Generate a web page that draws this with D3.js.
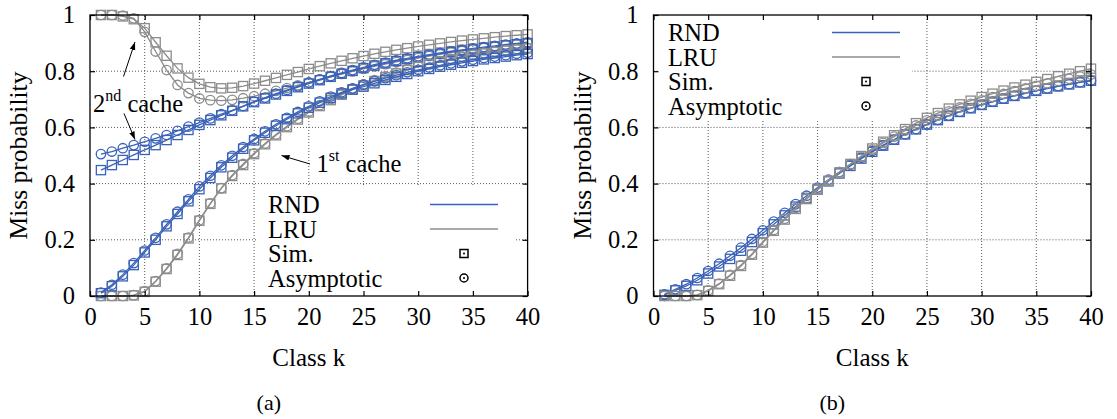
<!DOCTYPE html>
<html><head><meta charset="utf-8">
<script src="https://cdn.jsdelivr.net/npm/d3@7"></script>
<style>
body{margin:0;background:#fff}
svg{display:block}
</style>
</head><body>
<svg id="c" width="1117" height="419"></svg>
<script>
// ---------------- data ----------------
const classK = d3.range(1, 41);
const xTicks = [0, 5, 10, 15, 20, 25, 30, 35, 40];
const yTicks = [0, 0.2, 0.4, 0.6, 0.8, 1];
const yTickLabels = ["0", "0.2", "0.4", "0.6", "0.8", "1"];
const legendLabels = ["RND", "LRU", "Sim.", "Asymptotic"];
const xLabel = "Class k";
const yLabel = "Miss probability";

// panel (a): 1st and 2nd cache
const aRnd1Sim = [0.010,0.035,0.070,0.110,0.155,0.200,0.248,0.292,0.337,0.380,0.420,0.458,0.492,0.524,0.554,0.581,0.606,0.629,0.650,0.670,0.688,0.705,0.721,0.735,0.745,0.757,0.769,0.780,0.790,0.800,0.808,0.816,0.823,0.830,0.836,0.842,0.847,0.852,0.857,0.861];
const aRnd1Asy = [0.012,0.040,0.076,0.117,0.162,0.207,0.255,0.300,0.344,0.390,0.428,0.465,0.499,0.530,0.559,0.586,0.611,0.634,0.655,0.675,0.693,0.710,0.725,0.739,0.752,0.764,0.775,0.786,0.796,0.805,0.813,0.821,0.828,0.835,0.841,0.847,0.852,0.857,0.862,0.866];
const aLru1Sim = [0.000,0.000,0.000,0.002,0.015,0.051,0.096,0.146,0.205,0.268,0.328,0.383,0.427,0.466,0.505,0.540,0.572,0.601,0.628,0.653,0.676,0.697,0.716,0.734,0.750,0.765,0.779,0.792,0.804,0.815,0.825,0.834,0.842,0.850,0.857,0.863,0.868,0.873,0.877,0.881];
const aLru1Asy = [0.000,0.000,0.000,0.003,0.017,0.053,0.098,0.150,0.208,0.270,0.330,0.384,0.430,0.470,0.508,0.543,0.575,0.604,0.631,0.656,0.679,0.700,0.719,0.737,0.753,0.768,0.782,0.795,0.806,0.817,0.827,0.836,0.844,0.852,0.859,0.865,0.870,0.875,0.879,0.883];
const aRnd2Sim = [0.448,0.466,0.484,0.502,0.520,0.537,0.555,0.573,0.591,0.609,0.626,0.643,0.659,0.675,0.690,0.703,0.717,0.730,0.743,0.756,0.768,0.780,0.791,0.801,0.811,0.820,0.828,0.836,0.843,0.850,0.856,0.862,0.868,0.873,0.878,0.883,0.887,0.892,0.896,0.900];
const aRnd2Asy = [0.505,0.514,0.526,0.537,0.549,0.561,0.573,0.588,0.603,0.617,0.632,0.647,0.661,0.676,0.692,0.706,0.720,0.733,0.746,0.759,0.771,0.783,0.794,0.804,0.814,0.823,0.831,0.839,0.846,0.853,0.859,0.865,0.871,0.876,0.881,0.886,0.890,0.895,0.899,0.903];
const aLru2Sim = [1.000,1.000,0.995,0.985,0.953,0.903,0.855,0.810,0.777,0.755,0.743,0.739,0.741,0.747,0.756,0.766,0.776,0.787,0.797,0.808,0.818,0.828,0.837,0.846,0.854,0.862,0.869,0.876,0.882,0.888,0.894,0.899,0.904,0.909,0.913,0.917,0.921,0.925,0.928,0.931];
const aLru2Asy = [1.000,1.000,0.998,0.988,0.940,0.870,0.804,0.751,0.722,0.703,0.697,0.695,0.698,0.704,0.711,0.720,0.730,0.740,0.750,0.760,0.770,0.780,0.790,0.799,0.808,0.817,0.825,0.833,0.840,0.847,0.854,0.860,0.866,0.872,0.877,0.882,0.887,0.891,0.895,0.899];

// panel (b): single cache
const bRndSim = [0.004,0.020,0.036,0.056,0.080,0.105,0.132,0.161,0.192,0.223,0.255,0.287,0.318,0.349,0.379,0.408,0.436,0.463,0.489,0.513,0.535,0.556,0.575,0.593,0.610,0.626,0.641,0.655,0.668,0.680,0.691,0.702,0.712,0.721,0.730,0.738,0.746,0.753,0.760,0.766];
const bRndAsy = [0.006,0.024,0.042,0.064,0.089,0.115,0.143,0.172,0.203,0.234,0.265,0.296,0.327,0.357,0.386,0.414,0.441,0.467,0.492,0.516,0.537,0.557,0.576,0.594,0.611,0.627,0.642,0.656,0.669,0.681,0.692,0.703,0.713,0.722,0.731,0.739,0.747,0.754,0.761,0.767];
const bLruSim = [0.000,0.000,0.000,0.003,0.018,0.042,0.072,0.107,0.147,0.190,0.232,0.272,0.310,0.345,0.378,0.410,0.440,0.470,0.498,0.525,0.549,0.572,0.594,0.615,0.634,0.651,0.667,0.682,0.695,0.708,0.720,0.731,0.742,0.752,0.762,0.772,0.782,0.791,0.800,0.809];
const bLruAsy = [0.000,0.000,0.000,0.004,0.020,0.044,0.075,0.110,0.150,0.193,0.235,0.275,0.313,0.348,0.381,0.412,0.441,0.469,0.496,0.521,0.545,0.567,0.588,0.607,0.625,0.642,0.657,0.671,0.684,0.696,0.708,0.719,0.729,0.739,0.748,0.757,0.765,0.773,0.781,0.788];

// ---------------- style ----------------
const BLUE = "#3a62b8", GRAY = "#8c8c8c";
const FS = 24.5;
const FONT = "'Liberation Serif', 'Times New Roman', serif";

const svg = d3.select("#c").style("font-family", FONT);
const defs = svg.append("defs");
defs.append("marker").attr("id", "arr").attr("viewBox", "0 0 10 10")
  .attr("refX", 10).attr("refY", 5).attr("markerWidth", 8).attr("markerHeight", 8)
  .attr("markerUnits", "userSpaceOnUse").attr("orient", "auto")
  .append("path").attr("d", "M0,1.5 L10,5 L0,8.5 Z").attr("fill", "#000");

const panels = [
  { left: 90, right: 527.6, top: 15, bottom: 296, tag: "(a)",
    series: [
      {v: aLru2Sim, c: GRAY, m: "sq"}, {v: aLru2Asy, c: GRAY, m: "ci"},
      {v: aRnd2Sim, c: BLUE, m: "sq"}, {v: aRnd2Asy, c: BLUE, m: "ci"},
      {v: aLru1Sim, c: GRAY, m: "sq"}, {v: aLru1Asy, c: GRAY, m: "ci"},
      {v: aRnd1Sim, c: BLUE, m: "sq"}, {v: aRnd1Asy, c: BLUE, m: "ci"}
    ],
    legend: { box: [257, 186, 515, 296], textX: 268, y0: 204.5, lineX: [430, 498], markX: 464 } },
  { left: 653.5, right: 1091, top: 15, bottom: 296, tag: "(b)",
    series: [
      {v: bRndSim, c: BLUE, m: "sq"}, {v: bRndAsy, c: BLUE, m: "ci"},
      {v: bLruSim, c: GRAY, m: "sq"}, {v: bLruAsy, c: GRAY, m: "ci"}
    ],
    legend: { box: [657, 16, 912, 120], textX: 668, y0: 32.5, lineX: [832, 900], markX: 866 } }
];

const txt = (sel) => sel.style("font-family", FONT).attr("fill", "#000");

panels.forEach((p, pi) => {
  const x = d3.scaleLinear().domain([0, 40]).range([p.left, p.right]);
  const y = d3.scaleLinear().domain([0, 1]).range([p.bottom, p.top]);
  const g = svg.append("g");

  // grid
  g.append("g").selectAll("line").data(xTicks.slice(1, -1)).join("line")
    .attr("x1", d => x(d)).attr("x2", d => x(d)).attr("y1", y(0)).attr("y2", y(1))
    .attr("stroke", "#444").attr("stroke-width", 0.9).attr("stroke-dasharray", "1,2");
  g.append("g").selectAll("line").data(yTicks.slice(1, -1)).join("line")
    .attr("y1", d => y(d)).attr("y2", d => y(d)).attr("x1", x(0)).attr("x2", x(40))
    .attr("stroke", "#444").attr("stroke-width", 0.9).attr("stroke-dasharray", "1,2");

  // legend box (opaque)
  const L = p.legend;
  g.append("rect").attr("x", L.box[0]).attr("y", L.box[1])
    .attr("width", L.box[2] - L.box[0]).attr("height", L.box[3] - L.box[1]).attr("fill", "#fff");

  // data
  const line = d3.line().x((d, i) => x(classK[i])).y(d => y(d));
  p.series.forEach(s => {
    const sg = g.append("g");
    sg.append("path").datum(s.v).attr("d", line).attr("fill", "none")
      .attr("stroke", s.c).attr("stroke-width", 1.3);
    if (s.m === "sq") {
      sg.selectAll("rect").data(s.v).join("rect")
        .attr("x", (d, i) => x(classK[i]) - 4.6).attr("y", d => y(d) - 4.6)
        .attr("width", 9.2).attr("height", 9.2)
        .attr("fill", "none").attr("stroke", s.c).attr("stroke-width", 1.3);
    } else {
      sg.selectAll("circle").data(s.v).join("circle")
        .attr("cx", (d, i) => x(classK[i])).attr("cy", d => y(d)).attr("r", 4.7)
        .attr("fill", "none").attr("stroke", s.c).attr("stroke-width", 1.3);
    }
  });

  // legend content
  const step = 24.5;
  legendLabels.forEach((t, i) => {
    g.append("text").attr("x", L.textX).attr("y", L.y0 + i * step + 8.5)
      .attr("font-size", FS).call(txt).text(t);
  });
  [BLUE, GRAY].forEach((c, i) => {
    g.append("line").attr("x1", L.lineX[0]).attr("x2", L.lineX[1])
      .attr("y1", L.y0 + i * step).attr("y2", L.y0 + i * step)
      .attr("stroke", c).attr("stroke-width", 1.5);
  });
  const ys = L.y0 + 2 * step, yc = L.y0 + 3 * step;
  g.append("rect").attr("x", L.markX - 4).attr("y", ys - 4).attr("width", 8).attr("height", 8)
    .attr("fill", "none").attr("stroke", "#000").attr("stroke-width", 1.5);
  g.append("circle").attr("cx", L.markX).attr("cy", ys).attr("r", 1).attr("fill", "#000");
  g.append("circle").attr("cx", L.markX).attr("cy", yc).attr("r", 4).attr("fill", "none")
    .attr("stroke", "#000").attr("stroke-width", 1.5);
  g.append("circle").attr("cx", L.markX).attr("cy", yc).attr("r", 1).attr("fill", "#000");

  // axes
  const styleAxis = sel => {
    sel.attr("font-family", null).attr("font-size", null);
    sel.select(".domain").remove();
    sel.selectAll(".tick line").attr("stroke", "#000").attr("stroke-width", 1.2);
    sel.selectAll("text").attr("font-size", FS).call(txt);
  };
  g.append("g").attr("transform", `translate(0,${p.bottom})`)
    .call(d3.axisBottom(x).tickValues(xTicks).tickSizeInner(-5).tickSizeOuter(0).tickPadding(12).tickFormat(d3.format("d")))
    .call(styleAxis);
  g.append("g").attr("transform", `translate(0,${p.top})`)
    .call(d3.axisTop(x).tickValues(xTicks).tickSizeInner(-5).tickSizeOuter(0).tickFormat(""))
    .call(styleAxis);
  g.append("g").attr("transform", `translate(${p.left},0)`)
    .call(d3.axisLeft(y).tickValues(yTicks).tickSizeInner(-5).tickSizeOuter(0).tickPadding(15)
      .tickFormat((d, i) => yTickLabels[i]))
    .call(styleAxis);
  g.append("g").attr("transform", `translate(${p.right},0)`)
    .call(d3.axisRight(y).tickValues(yTicks).tickSizeInner(-5).tickSizeOuter(0).tickFormat(""))
    .call(styleAxis);

  // border
  g.append("rect").attr("x", p.left).attr("y", p.top)
    .attr("width", p.right - p.left).attr("height", p.bottom - p.top)
    .attr("fill", "none").attr("stroke", "#000").attr("stroke-width", 1.3);

  // labels
  const cx = (p.left + p.right) / 2;
  g.append("text").attr("x", cx).attr("y", 366).attr("text-anchor", "middle")
    .attr("font-size", 25).call(txt).text(xLabel);
  g.append("text").attr("transform", `translate(${p.left - 63},${(p.top + p.bottom) / 2}) rotate(-90)`)
    .attr("text-anchor", "middle").attr("font-size", 25.5).call(txt).text(yLabel);
  g.append("text").attr("x", cx - 40).attr("y", 410).attr("text-anchor", "middle")
    .attr("font-size", 22).call(txt).text(p.tag);

  // annotations on panel (a)
  if (pi === 0) {
    const t2 = g.append("text").attr("x", 93).attr("y", 111.5).attr("font-size", FS).call(txt);
    t2.append("tspan").text("2");
    t2.append("tspan").attr("font-size", 16).attr("dy", -11).text("nd");
    t2.append("tspan").attr("dy", 11).text(" cache");
    const t1 = g.append("text").attr("x", 316.5).attr("y", 171.5).attr("font-size", FS).call(txt);
    t1.append("tspan").text("1");
    t1.append("tspan").attr("font-size", 16).attr("dy", -11).text("st");
    t1.append("tspan").attr("dy", 11).text(" cache");
    const arrows = [[123.5, 76.5, 135, 42], [124, 113.5, 135, 139.5], [310, 164, 281.5, 155.5]];
    g.selectAll(".arrow").data(arrows).join("line").attr("class", "arrow")
      .attr("x1", d => d[0]).attr("y1", d => d[1]).attr("x2", d => d[2]).attr("y2", d => d[3])
      .attr("stroke", "#000").attr("stroke-width", 1).attr("marker-end", "url(#arr)");
  }
});
</script>
</body></html>
